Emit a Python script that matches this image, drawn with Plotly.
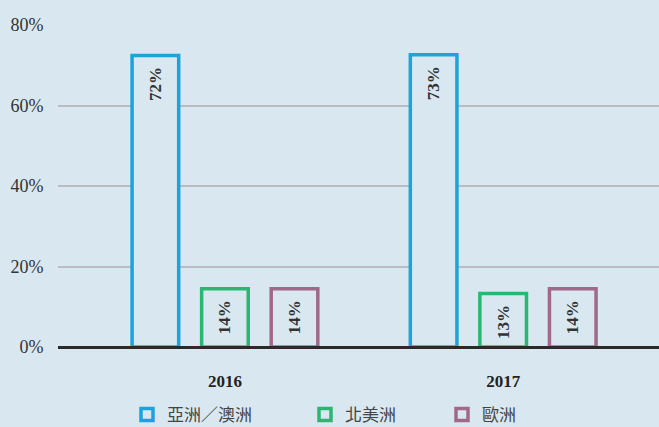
import plotly.graph_objects as go

years = ["2016", "2017"]
series_names = ["亞洲／澳洲", "北美洲", "歐洲"]
asia_values = [72.4, 72.6]
north_america_values = [14.5, 13.3]
europe_values = [14.5, 14.5]
asia_labels = ["72%", "73%"]
north_america_labels = ["14%", "13%"]
europe_labels = ["14%", "14%"]
y_ticks = [0, 20, 40, 60, 80]
y_tick_labels = ["0%", "20%", "40%", "60%", "80%"]

bg = "#d9e8f0"
colors = ["#1aa3dc", "#2bb673", "#a0688a"]
values = [asia_values, north_america_values, europe_values]
labels = [asia_labels, north_america_labels, europe_labels]
legends = ["legend", "legend2", "legend3"]

fig = go.Figure()
for name, vals, labs, col, lg in zip(series_names, values, labels, colors, legends):
    fig.add_trace(go.Bar(
        x=years, y=vals, name=name, text=labs,
        texttemplate="%{text}\u00a0\u00a0",
        textposition="inside", insidetextanchor="end", textangle=-90,
        insidetextfont=dict(family="Liberation Serif", size=17, color="#333333", weight="bold"),
        marker=dict(color=bg, line=dict(color=col, width=3.5)),
        legend=lg, hoverinfo="skip",
    ))

leg_common = dict(orientation="h", yanchor="middle", y=-0.211, xanchor="left",
                  bgcolor="rgba(0,0,0,0)",
                  font=dict(family="Noto Sans CJK TC", size=17, color="#444444"))

fig.update_layout(
    width=659, height=427,
    paper_bgcolor=bg, plot_bgcolor=bg,
    margin=dict(l=58, r=0, t=25, b=80, autoexpand=False),
    barmode="group", bargap=0.25, bargroupgap=0.33,
    showlegend=True,
    legend=dict(x=(127 - 58) / 601, **leg_common),
    legend2=dict(x=(305 - 58) / 601, **leg_common),
    legend3=dict(x=(442 - 58) / 601, **leg_common),
    xaxis=dict(range=[-0.6, 1.56], showgrid=False, showline=False, zeroline=False,
               tickfont=dict(family="Liberation Serif", size=17, color="#222222", weight="bold"),
               ticks="outside", ticklen=19, tickcolor="rgba(0,0,0,0)"),
    yaxis=dict(range=[0, 80], tickvals=y_ticks, ticktext=y_tick_labels,
               showgrid=True, gridcolor="#b9bdc1", gridwidth=1.5,
               zeroline=True, zerolinecolor="#2a2a2a", zerolinewidth=2.5,
               zerolinelayer="above traces",
               showline=False,
               tickfont=dict(family="Liberation Serif", size=18, color="#333333"),
               ticks="outside", ticklen=10, tickcolor="rgba(0,0,0,0)"),
)

fig.write_html("out.html", config={"displayModeBar": False},
               post_script="document.body.style.margin='0';")
